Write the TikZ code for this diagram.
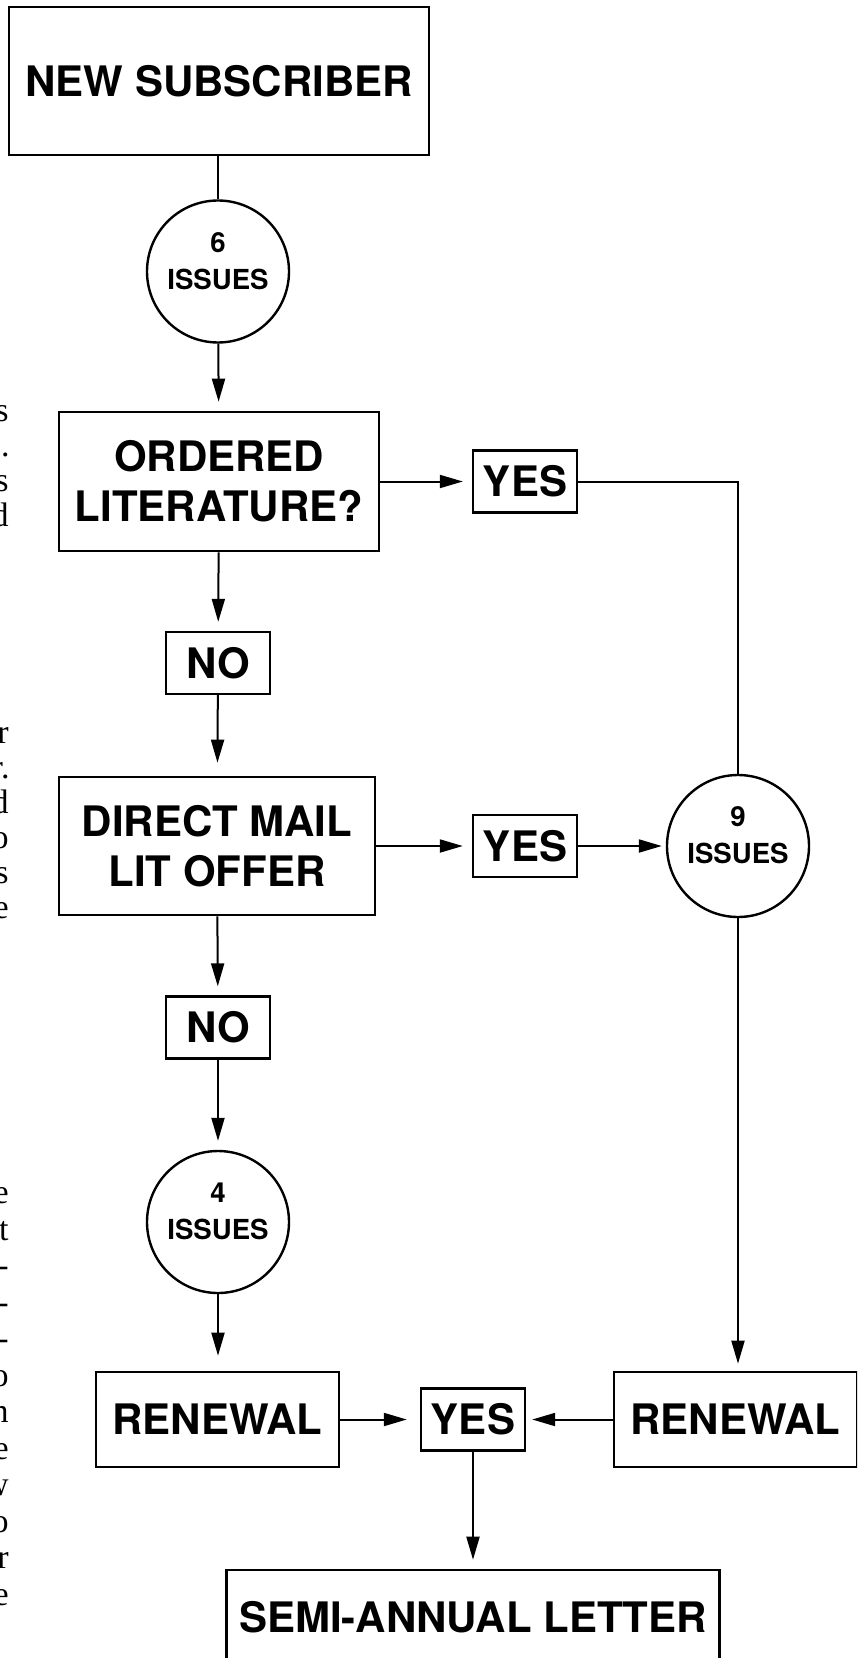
\documentclass[tikz,border=0pt]{standalone}
\usepackage{fontspec}
\newfontfamily\helv{TeX Gyre Heros}
\newfontfamily\timesfont{Liberation Serif}
\usetikzlibrary{arrows.meta,positioning}

\begin{document}
\begin{tikzpicture}[x=0.5pt, y=-0.5pt,
        bigbox/.style={rectangle, draw, line width=1.3pt, inner sep=0pt, align=center,
                       font=\helv\bfseries\fontsize{21}{25}\selectfont},
        smallbox/.style={rectangle, draw, line width=1.2pt, inner sep=0pt,
                         minimum width=52pt, minimum height=31pt,
                         font=\helv\bfseries\fontsize{21}{25}\selectfont},
        issues/.style={circle, draw, line width=1.2pt, inner sep=0pt, minimum size=71pt,
                       font=\helv\bfseries\fontsize{13.8}{18.5}\selectfont},
        arr/.style={-{Triangle[length=11.5pt, width=6.5pt]}, line width=1pt, shorten >=4.5pt},
        edge/.style={line width=1pt},
        margin/.style={anchor=base east, inner sep=0pt, font=\timesfont\fontsize{17}{17}\selectfont}
      ]
        \useasboundingbox (0,0) rectangle (857,1658);
        \clip (0,0) rectangle (857,1658);

        \node[bigbox, minimum width=210pt, minimum height=74pt]   (new)     at (219, 81)      {NEW SUBSCRIBER};
        \node[issues]                                            (c6)      at (218, 271.5)   {\raisebox{4pt}[\height][\depth]{\begin{tabular}{@{}c@{}}6\\ISSUES\end{tabular}}};
        \node[bigbox, minimum width=160pt, minimum height=69.5pt] (ordered) at (219, 481.5)   {ORDERED\\LITERATURE?};
        \node[smallbox]                                          (yes1)    at (525, 481.5)   {YES};
        \node[smallbox]                                          (no1)     at (218, 663)     {NO};
        \node[bigbox, minimum width=158pt, minimum height=69pt]   (direct)  at (217, 846)     {DIRECT MAIL\\LIT OFFER};
        \node[smallbox]                                          (yes2)    at (525, 846)     {YES};
        \node[issues]                                            (c9)      at (738, 846)     {\raisebox{4pt}[\height][\depth]{\begin{tabular}{@{}c@{}}9\\ISSUES\end{tabular}}};
        \node[smallbox]                                          (no2)     at (218, 1027.5)  {NO};
        \node[issues]                                            (c4)      at (218, 1222)    {\raisebox{4pt}[\height][\depth]{\begin{tabular}{@{}c@{}}4\\ISSUES\end{tabular}}};
        \node[bigbox, minimum width=121.5pt, minimum height=47.5pt] (renL)  at (217.5, 1419.5) {RENEWAL};
        \node[smallbox]                                          (yes3)    at (473, 1419.5)  {YES};
        \node[bigbox, minimum width=121.5pt, minimum height=47.5pt] (renR)  at (735.5, 1419.5) {RENEWAL};
        \node[bigbox, minimum width=246.5pt, minimum height=47pt] (semi)    at (473, 1617)    {SEMI-ANNUAL LETTER};

        \draw[edge] (new.south -| c6) -- (c6);
        \draw[arr] (c6) -- (ordered);
        \draw[arr] (ordered) -- (yes1);
        \draw[edge] (yes1) -| (c9);
        \draw[arr] (ordered) -- (no1);
        \draw[arr, shorten >=6.5pt] (no1) -- (direct);
        \draw[arr] (direct) -- (yes2);
        \draw[arr, shorten >=2pt] (yes2) -- (c9);
        \draw[arr] (direct) -- (no2);
        \draw[arr] (no2) -- (c4);
        \draw[arr, shorten >=7.5pt] (c4) -- (c4 |- renL.north);
        \draw[arr, shorten >=3.5pt] (c9) -- (c9 |- renR.north);
        \draw[arr, shorten >=6.5pt] (renL) -- (yes3);
        \draw[arr, shorten >=3pt] (renR) -- (yes3);
        \draw[arr] (yes3) -- (semi);

        \node[margin] (m1)  at (9, 421)  {s};
        \node[margin] (m2)  at (10, 456) {e.};
        \node[margin] (m3)  at (9, 491)  {s};
        \node[margin] (m4)  at (9, 526)  {d};
        \node[margin] (m5)  at (9, 743)  {r};
        \node[margin] (m6)  at (10, 778) {r.};
        \node[margin] (m7)  at (9, 813)  {d};
        \node[margin] (m8)  at (9, 848)  {o};
        \node[margin] (m9)  at (9, 883)  {s};
        \node[margin] (m10) at (9, 918)  {e};
        \node[margin] (m11) at (9, 1203) {e};
        \node[margin] (m12) at (9, 1240) {t};
        \node[margin] (m13) at (9, 1276) {-};
        \node[margin] (m14) at (9, 1313) {-};
        \node[margin] (m15) at (9, 1349) {-};
        \node[margin] (m16) at (9, 1386) {o};
        \node[margin] (m17) at (9, 1422) {n};
        \node[margin] (m18) at (9, 1459) {e};
        \node[margin] (m19) at (9, 1495) {w};
        \node[margin] (m20) at (9, 1532) {o};
        \node[margin] (m21) at (9, 1568) {r};
        \node[margin] (m22) at (9, 1605) {e};
      \end{tikzpicture}
\end{document}
